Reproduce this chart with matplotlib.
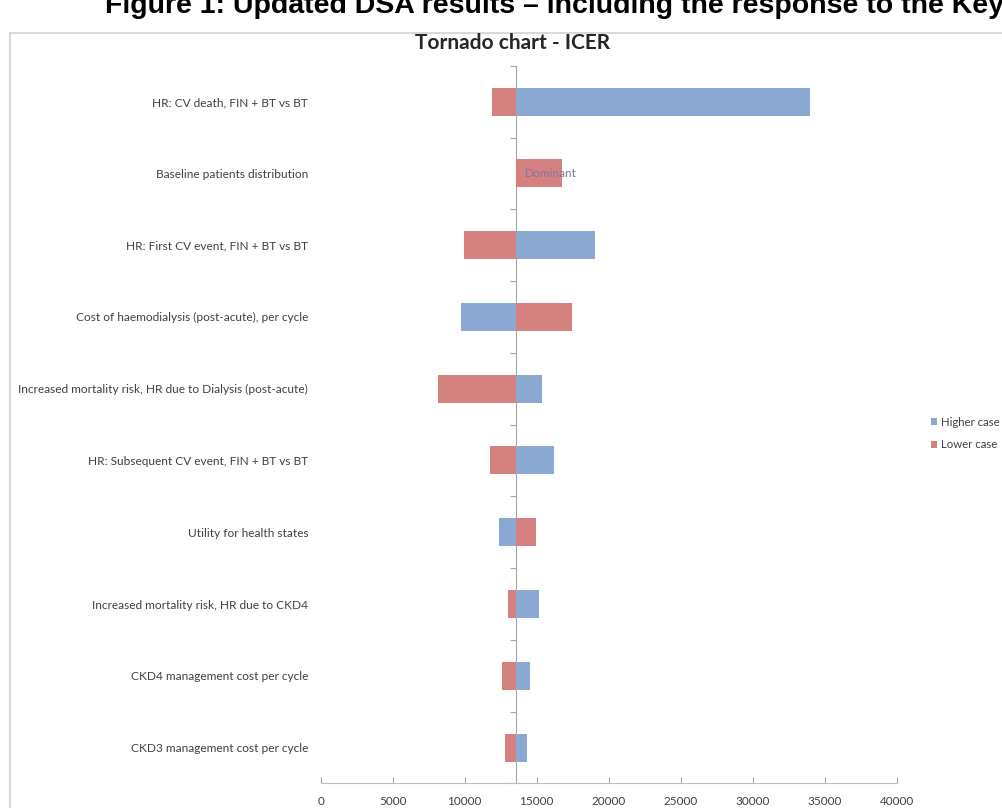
import matplotlib.pyplot as plt
from matplotlib.patches import Rectangle
import numpy as np

# Datos del análisis de sensibilidad determinista (ICER)
parametros = [
    'HR: CV death, FIN + BT vs BT',
    'Baseline patients distribution',
    'HR: First CV event, FIN + BT vs BT',
    'Cost of haemodialysis (post-acute), per cycle',
    'Increased mortality risk, HR due to Dialysis (post-acute)',
    'HR: Subsequent CV event, FIN + BT vs BT',
    'Utility for health states',
    'Increased mortality risk, HR due to CKD4',
    'CKD4 management cost per cycle',
    'CKD3 management cost per cycle',
]
icer_base = 13580
icer_alto = [34000, np.nan, 19030, 9720, 15390, 16220, 12380, 15180, 14510, 14350]
icer_bajo = [11880, 16740, 9970, 17450, 8150, 11740, 14950, 13030, 12610, 12800]
ticks_x = [0, 5000, 10000, 15000, 20000, 25000, 30000, 35000, 40000]

azul = '#8AA8D1'
rojo = '#D5817F'
gris = '#A6A6A6'
texto = '#404040'

plt.rcParams['font.family'] = ['Lato', 'DejaVu Sans']

fig = plt.figure(figsize=(10.03, 8.08), dpi=100)
ax = fig.add_axes([0.3197, 0.0304, 0.5743, 0.8882])

y = np.arange(len(parametros))
alto = np.array(icer_alto, dtype=float)
bajo = np.array(icer_bajo, dtype=float)
m_alto = ~np.isnan(alto)
m_bajo = ~np.isnan(bajo)

ax.barh(y[m_alto], alto[m_alto] - icer_base, left=icer_base, height=0.39,
        color=azul, label='Higher case')
ax.barh(y[m_bajo], bajo[m_bajo] - icer_base, left=icer_base, height=0.39,
        color=rojo, label='Lower case')

# etiqueta para el caso dominante
ax.annotate('Dominant', xy=(icer_base, 1), xytext=(6, 0), textcoords='offset points',
            ha='left', va='center', fontsize=8.5, color='#7C78A4')

ax.set_xlim(0, 40000)
ax.set_ylim(len(parametros) - 0.5, -0.5)
ax.set_xticks(ticks_x, [str(t) for t in ticks_x])
ax.set_yticks(y, parametros)

ax.tick_params(axis='y', length=0, pad=9, labelsize=8.6, labelcolor=texto)
ax.tick_params(axis='x', direction='in', length=4, color=gris, pad=9,
               labelsize=8.5, labelcolor=texto)
for lado in ['top', 'right', 'left']:
    ax.spines[lado].set_visible(False)
ax.spines['bottom'].set_color('#BFBFBF')

# eje de categorías en el ICER base
eje = ax.secondary_yaxis(icer_base, transform=ax.transData)
eje.set_alignment('left')
eje.set_yticks(np.arange(-0.5, len(parametros), 1))
eje.set_yticklabels([])
eje.tick_params(direction='out', length=4, color=gris)
eje.spines['left'].set_color(gris)

fig.legend(loc='center left', bbox_to_anchor=(0.921, 0.4635), frameon=False,
           fontsize=8.2, handlelength=0.6, handleheight=0.6, handletextpad=0.3,
           labelspacing=1.05, labelcolor=texto, borderaxespad=0.2)

fig.text(0.5115, 0.947, 'Tornado chart - ICER', ha='center', va='center',
         fontsize=15, fontweight='bold', color='#262626')

fig.text(0.105, 0.984, 'Figure 1: Updated DSA results \u2013 including the response to the Key',
         ha='left', va='baseline', fontsize=20.5, fontweight='bold',
         family=['Liberation Sans', 'DejaVu Sans'], color='black')

fig.patches.append(Rectangle((10 / 1003, -0.1), 1.2, (808 - 33) / 808 + 0.1,
                             transform=fig.transFigure, fill=False,
                             edgecolor='#D9D9D9', lw=1.5))

fig.savefig('out.png', dpi=100)
